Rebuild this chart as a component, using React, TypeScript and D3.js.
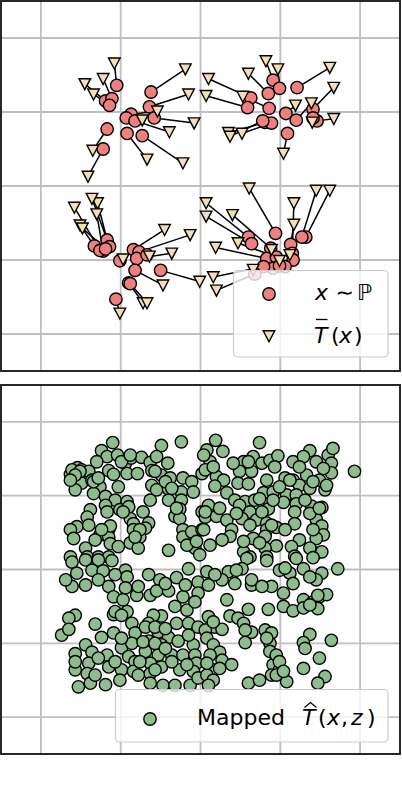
import React from 'react';
import * as d3 from 'd3';

const gridTicks = [-2, -1, 0, 1, 2];
const domain: [number, number] = [-2.5, 2.5];

// x ~ P (source samples)
const sourceX = [-1.05,-1.19,-1.11,-1.14,-0.62,-0.64,-0.58,-0.87,-0.93,-0.82,-1.17,-1.22,-0.92,-0.73,
  0.91,0.99,0.85,1.21,1.41,0.63,0.59,0.86,1.07,1.20,1.46,0.81,0.89,1.09,1.41,0.78,
  -1.17,-1.14,-1.22,-1.33,-1.26,-1.19,-0.84,-0.77,-0.80,-0.67,-1.01,-0.82,-0.50,-0.90,-0.88,-1.06,
  0.94,1.32,1.27,0.60,0.64,1.13,1.15,0.88,0.83,0.95,1.16,1.06,0.91,0.79,0.68,0.99];
const sourceY = [1.36,1.15,1.18,1.09,1.27,1.07,0.92,0.97,0.92,0.88,0.77,0.50,0.71,0.68,
  1.43,1.32,1.25,1.33,1.04,1.19,1.06,1.05,0.98,0.89,0.88,0.86,0.85,0.71,0.92,0.88,
  -0.73,-0.82,-0.88,-0.81,-0.87,-0.85,-0.86,-0.89,-0.98,-0.93,-1.01,-1.14,-1.14,-1.31,-1.32,-1.53,
  -0.64,-0.69,-0.69,-0.69,-0.78,-0.79,-0.91,-0.84,-0.98,-0.96,-1.00,-1.09,-1.11,-1.09,-1.19,-1.08];
// T-bar(x) (barycentric projections)
const targetX = [-1.08,-1.45,-1.22,-1.34,-0.19,-0.15,-0.08,-0.54,-0.73,-0.39,-1.35,-1.41,-0.67,-0.22,
  0.82,0.97,0.60,1.62,1.67,0.10,0.07,0.53,1.19,1.39,1.67,0.35,0.52,1.04,1.40,0.37,
  -1.29,-1.36,-1.30,-1.51,-1.58,-1.48,-0.45,-0.13,-0.36,-0.64,-0.97,-0.47,-0.01,-0.72,-0.67,-1.01,
  0.61,1.62,1.45,0.07,0.07,1.17,1.17,0.40,0.19,0.47,1.12,0.99,0.89,0.16,0.20,0.66];
const targetY = [1.66,1.38,1.45,1.24,1.58,1.24,0.85,1.01,0.89,0.73,0.48,0.13,0.36,0.31,
  1.69,1.58,1.52,1.60,1.33,1.45,1.22,1.21,1.09,1.12,0.91,0.72,0.71,0.44,0.86,0.67,
  -0.23,-0.17,-0.38,-0.53,-0.29,-0.57,-0.59,-0.66,-0.91,-0.95,-0.99,-1.34,-1.29,-1.58,-1.58,-1.72,
  -0.03,-0.06,-0.06,-0.23,-0.41,-0.52,-0.23,-0.39,-0.83,-0.77,-0.93,-1.01,-0.86,-1.23,-1.41,-1.13];

// Mapped T-hat(x, z)
const mappedPoints: [number, number][] = [
  [-1.10,1.72],[-1.24,1.61],[-1.17,1.53],[-1.04,1.55],[-1.30,1.46],[-0.94,1.44],[-0.87,1.51],[-0.74,1.52],
  [-0.63,1.45],[-0.49,1.68],[-0.55,1.53],[-0.41,1.44],[-0.24,1.73],[-1.54,1.38],[-1.63,1.29],[-1.49,1.35],
  [-1.40,1.33],[-1.15,1.34],[-1.09,1.29],[-0.92,1.30],[-0.79,1.30],[-0.61,1.34],[-0.49,1.28],[-0.38,1.24],
  [-0.22,1.24],[-0.11,1.19],[0.02,1.30],[-1.57,1.19],[-1.49,1.17],[-1.36,1.21],[-1.26,1.12],[-1.03,1.12],
  [-0.61,1.14],[-0.55,1.08],[-0.40,1.09],[-0.24,1.05],[-0.09,1.05],[-1.57,1.08],[-1.34,1.03],[-1.19,0.99],
  [-1.07,0.94],[-0.92,0.92],[-0.63,0.94],[-0.40,0.94],[-0.24,0.94],[-1.38,0.81],[-1.19,0.87],[-1.17,0.78],
  [-1.01,0.81],[-0.72,0.78],[-0.26,0.82],[0.02,0.78],[-1.42,0.71],[-0.88,0.69],[-0.32,0.72],[-0.26,0.69],
  [-0.84,0.62],[-0.65,0.63],[-0.69,0.56],[-1.55,0.58],[-1.63,0.54],[-1.59,0.42],[-1.15,0.54],[-1.26,0.47],
  [-1.15,0.44],[-1.32,0.40],[-0.84,0.54],[-0.76,0.44],[-0.88,0.36],[-0.22,0.54],[-0.22,0.44],[-0.11,0.51],
  [0.02,0.54],[-1.44,0.29],[-1.13,0.35],[-1.03,0.31],[-0.78,0.29],[-0.40,0.26],[-0.07,0.29],[-0.01,0.20],
  [-1.63,0.17],[-1.42,0.17],[-1.28,0.17],[-1.15,0.17],
  [-1.61,1.35],[-1.51,1.33],[-1.57,1.28],[-1.63,1.21],[-1.34,1.19],[-1.28,1.24],[-0.99,1.46],[-0.88,1.55],
  [-0.57,1.33],[-0.44,1.19],[-0.36,1.10],[-0.30,0.83],[-0.90,0.85],[-0.97,0.78],[-1.40,0.60],[-1.13,0.59],
  [-1.24,0.54],[-0.76,0.54],[-0.82,0.44],[-0.17,0.33],[-0.05,0.38],
  [0.19,1.75],[0.74,1.72],[0.08,1.62],[0.28,1.60],[0.12,1.46],[0.54,1.46],[0.66,1.53],[0.77,1.44],
  [0.87,1.48],[0.97,1.54],[1.16,1.46],[1.37,1.61],[1.29,1.53],[1.45,1.46],[1.60,1.55],[1.66,1.64],
  [1.64,1.44],[1.93,1.33],[0.06,1.35],[0.20,1.26],[0.29,1.21],[0.49,1.33],[0.64,1.33],[0.47,1.17],
  [0.60,1.16],[0.83,1.21],[1.06,1.24],[1.16,1.21],[1.33,1.28],[1.49,1.21],[1.64,1.31],[0.18,1.13],
  [0.33,1.04],[0.79,1.04],[0.91,1.05],[1.24,1.14],[1.37,1.10],[1.56,1.08],[1.08,1.01],[1.20,1.01],
  [0.10,0.87],[0.43,0.94],[0.56,0.92],[0.68,0.94],[1.04,0.91],[1.20,0.89],[1.39,0.86],[1.52,0.84],
  [0.62,0.78],[0.85,0.82],[1.18,0.78],[1.43,0.76],[0.06,0.71],[0.20,0.72],[0.33,0.67],[0.52,0.69],
  [0.70,0.67],[0.83,0.63],[1.18,0.62],[1.45,0.68],[0.39,0.54],[0.83,0.54],[0.95,0.57],[1.52,0.59],
  [0.04,0.54],[0.37,0.45],[0.66,0.42],[0.81,0.45],[1.54,0.47],[1.45,0.42],[1.24,0.40],[1.14,0.31],
  [0.95,0.32],[0.81,0.29],[0.54,0.24],[0.62,0.17],[0.83,0.17],[1.45,0.22],[1.18,0.18],[1.52,0.24],
  [0.04,1.55],[0.16,1.39],[0.41,1.44],[0.60,1.46],[0.93,1.39],[1.24,1.39],[1.54,1.37],[1.12,1.21],
  [1.41,1.19],[1.58,1.14],[0.99,1.12],[0.74,0.96],[0.91,0.94],[1.31,0.94],[0.49,0.87],[0.24,0.83],
  [0.06,0.78],[0.77,0.78],[1.37,0.76],[1.49,0.83],[0.45,0.76],[0.62,0.60],[0.89,0.60],[1.06,0.54],
  [1.41,0.54],[0.74,0.36],[0.54,0.38],[0.27,0.40],[0.12,0.33],[1.37,0.29],
  [-1.61,0.10],[-1.44,0.13],[-1.28,0.13],[-1.11,0.12],[-1.55,-0.05],[-1.36,-0.01],[-1.22,-0.02],[-0.94,-0.01],
  [-0.92,-0.10],[-0.65,-0.07],[-0.51,-0.14],[-0.30,-0.11],[-0.15,0.01],[-0.03,-0.17],[-1.61,-0.23],[-1.44,-0.21],
  [-1.15,-0.23],[-0.94,-0.25],[-0.80,-0.35],[-0.63,-0.35],[-0.55,-0.29],[-0.40,-0.29],[-0.22,-0.37],[-0.03,-0.32],
  [-1.09,-0.37],[-0.97,-0.41],[-0.32,-0.50],[-0.17,-0.55],[-1.57,-0.62],[-1.65,-0.66],[-1.09,-0.61],[-0.92,-0.57],
  [-0.49,-0.63],[-0.59,-0.62],[-1.32,-0.74],[-0.86,-0.73],[-0.65,-0.73],[-0.30,-0.73],[-0.15,-0.73],[-0.03,-0.78],
  [-1.74,-0.89],[-1.65,-0.81],[-1.24,-0.92],[-1.09,-0.86],[-0.82,-0.86],[-0.53,-0.85],[-0.40,-0.92],[-1.44,-1.02],
  [-0.99,-1.06],[-0.86,-1.00],[-0.65,-0.97],[-0.49,-1.02],[-0.28,-0.97],[-0.09,-1.02],[-1.57,-1.14],[-1.36,-1.12],
  [-1.17,-1.16],[-0.90,-1.18],[-0.69,-1.11],[-0.53,-1.16],[-0.36,-1.16],[-0.22,-1.16],[-0.07,-1.16],[-1.40,-1.27],
  [-1.15,-1.32],[-0.82,-1.25],[-0.63,-1.27],[-0.49,-1.32],[-0.05,-1.27],[-1.57,-1.36],[-1.42,-1.41],[-0.99,-1.36],
  [-0.84,-1.38],[-0.63,-1.41],[-0.26,-1.36],[-0.09,-1.38],[-1.53,-1.59],[-1.38,-1.54],[-1.19,-1.56],[-1.01,-1.50],
  [-0.63,-1.54],[-0.47,-1.57],[-0.32,-1.57],[-0.13,-1.57],[-0.03,-1.47],
  [-1.69,-0.14],[-1.28,-0.14],[-1.07,-0.07],[-0.78,-0.23],[-0.44,-0.19],[-0.19,-0.21],[-0.07,-0.44],[-1.07,-0.57],
  [-0.99,-0.62],[-0.69,-0.78],[-0.57,-0.78],[-0.44,-0.80],[-0.15,-0.89],[-0.99,-0.93],[-0.72,-0.98],[-0.57,-1.00],
  [-0.44,-1.07],[-1.57,-1.25],[-1.28,-1.20],[-1.07,-1.25],[-0.76,-1.25],[-0.36,-1.25],[-0.78,-1.43],[-0.57,-1.36],
  [-0.17,-1.29],[-1.32,-1.43],
  [0.58,0.15],[0.83,0.12],[1.20,0.15],[1.41,0.16],[0.08,-0.03],[0.35,-0.03],[0.52,0.01],[0.99,-0.01],
  [1.12,-0.05],[1.29,0.01],[1.52,-0.05],[1.72,0.01],[0.27,-0.14],[0.43,-0.19],[0.64,-0.21],[0.89,-0.23],
  [1.16,-0.19],[1.45,-0.14],[0.10,-0.21],[0.64,-0.14],[1.04,-0.32],[1.29,-0.41],[1.41,-0.44],[1.49,-0.37],
  [1.58,-0.34],[0.33,-0.41],[0.60,-0.54],[0.85,-0.54],[1.04,-0.50],[1.16,-0.56],[1.29,-0.52],[1.47,-0.53],
  [0.10,-0.64],[0.37,-0.63],[0.47,-0.66],[0.54,-0.73],[0.18,-0.78],[0.06,-0.82],[0.27,-0.81],[0.81,-0.82],
  [0.89,-0.86],[0.64,-0.85],[1.37,-0.88],[1.29,-0.99],[1.31,-1.07],[1.64,-0.96],[0.08,-0.93],[0.16,-1.02],
  [0.56,-0.99],[0.87,-1.00],[0.87,-1.11],[0.95,-1.18],[1.49,-1.20],[0.24,-1.12],[0.12,-1.16],[0.27,-1.23],
  [0.39,-1.29],[0.91,-1.29],[0.99,-1.36],[1.29,-1.34],[1.56,-1.45],[0.16,-1.36],[0.08,-1.43],[0.16,-1.50],
  [0.60,-1.54],[0.74,-1.50],[0.89,-1.43],[1.08,-1.52],[1.47,-1.54],
  [0.18,-0.07],[0.45,-0.01],[0.77,-0.23],[1.06,0.02],[1.37,-0.10],[1.47,-0.35],[1.37,-0.48],[0.16,-0.71],
  [0.56,-0.82],[0.83,-0.93],[0.95,-1.16],[0.99,-1.25],[0.08,-1.27],[0.24,-1.34],[0.10,-1.57],[0.95,-1.43],
  [1.04,-1.38],
];

const COLORS = {
  source: '#F08080',
  target: '#F5DEB3',
  mapped: '#8FBC8F',
  grid: '#bfbfbf',
  frame: '#111111',
  legendEdge: '#cccccc',
};

const FONT = '"DejaVu Sans", sans-serif';
const TRI = 'M-5.8,-5.2 L5.8,-5.2 L0,5.8 Z';

function Panel({ id, top, bottom, x }: { id: string; top: number; bottom: number; x: d3.ScaleLinear<number, number> }) {
  const y = d3.scaleLinear().domain(domain).range([bottom, top]);
  const [x0, x1] = x.range();
  return (
    <g>
      <defs>
        <clipPath id={id}>
          <rect x={x0} y={top} width={x1 - x0} height={bottom - top} />
        </clipPath>
      </defs>
      <g clipPath={`url(#${id})`}>
        {gridTicks.map((t) => (
          <line key={'vx' + t} x1={x(t)} x2={x(t)} y1={top} y2={bottom} stroke={COLORS.grid} strokeWidth={1.8} />
        ))}
        {gridTicks.map((t) => (
          <line key={'hy' + t} x1={x0} x2={x1} y1={y(t)} y2={y(t)} stroke={COLORS.grid} strokeWidth={1.8} />
        ))}
      </g>
    </g>
  );
}

export default function App() {
  const x = d3.scaleLinear().domain(domain).range([1, 400]);
  const yTop = d3.scaleLinear().domain(domain).range([371, 1]);
  const yBot = d3.scaleLinear().domain(domain).range([754, 385]);

  const pairs = sourceX.map((sx, i) => ({ sx, sy: sourceY[i], tx: targetX[i], ty: targetY[i] }));

  return (
    <div style={{ position: 'absolute', left: 0, top: 0 }}>
      <svg width={402} height={786} style={{ display: 'block', fontFamily: FONT }}>
        <rect x={0} y={0} width={402} height={786} fill="#ffffff" />

        {/* Top panel */}
        <Panel id="clipTop" top={1} bottom={371} x={x} />
        <g clipPath="url(#clipTop)">
          {pairs.map((p, i) => (
            <line key={'l' + i} x1={x(p.sx)} y1={yTop(p.sy)} x2={x(p.tx)} y2={yTop(p.ty)} stroke="#000" strokeWidth={1.5} />
          ))}
          {pairs.map((p, i) => (
            <circle key={'c' + i} cx={x(p.sx)} cy={yTop(p.sy)} r={6.2} fill={COLORS.source} stroke="#000" strokeWidth={1.4} />
          ))}
          {pairs.map((p, i) => (
            <path key={'t' + i} d={TRI} transform={`translate(${x(p.tx)},${yTop(p.ty)})`} fill={COLORS.target} stroke="#000" strokeWidth={1.4} strokeLinejoin="miter" />
          ))}
        </g>
        <rect x={1} y={1} width={399} height={370} fill="none" stroke={COLORS.frame} strokeWidth={1.8} />

        {/* Top legend */}
        <g>
          <rect x={233.5} y={270.5} width={154.5} height={86.5} rx={4} ry={4} fill="#ffffff" fillOpacity={0.8} stroke={COLORS.legendEdge} strokeWidth={1.2} />
          <circle cx={269} cy={294} r={6.2} fill={COLORS.source} stroke="#000" strokeWidth={1.4} />
          <path d={TRI} transform="translate(269,336)" fill={COLORS.target} stroke="#000" strokeWidth={1.4} />
          <text x={315} y={300} fontSize={22} fill="#000">
            <tspan fontStyle="italic">x</tspan>
          </text>
          <text x={335.5} y={300} fontSize={22} fill="#000">∼</text>
          <text x={357} y={300} fontSize={22} fill="#000">ℙ</text>
          <text y={343} fontSize={22} fill="#000">
            <tspan x={314} fontStyle="italic">T</tspan>
            <tspan x={331}>(</tspan>
            <tspan x={339} fontStyle="italic">x</tspan>
            <tspan x={354}>)</tspan>
          </text>
          <line x1={316} x2={327.5} y1={319.5} y2={319.5} stroke="#000" strokeWidth={1.3} />
        </g>

        {/* Bottom panel */}
        <Panel id="clipBot" top={385} bottom={754} x={x} />
        <g clipPath="url(#clipBot)">
          {mappedPoints.map(([mx, my], i) => (
            <circle key={'m' + i} cx={x(mx)} cy={yBot(my)} r={6.2} fill={COLORS.mapped} stroke="#000" strokeWidth={1.4} />
          ))}
        </g>
        <rect x={1} y={385} width={399} height={369} fill="none" stroke={COLORS.frame} strokeWidth={1.8} />

        {/* Bottom legend */}
        <g>
          <rect x={115.5} y={689.5} width={272.5} height={52.5} rx={4} ry={4} fill="#ffffff" fillOpacity={0.8} stroke={COLORS.legendEdge} strokeWidth={1.2} />
          <circle cx={150} cy={719} r={6.2} fill={COLORS.mapped} stroke="#000" strokeWidth={1.4} />
          <text y={725} fontSize={22} fill="#000">
            <tspan x={197}>Mapped</tspan>
            <tspan x={302} fontStyle="italic">T</tspan>
            <tspan x={318}>(</tspan>
            <tspan x={327} fontStyle="italic">x</tspan>
            <tspan x={341}>,</tspan>
            <tspan x={351} fontStyle="italic">z</tspan>
            <tspan x={367}>)</tspan>
          </text>
          <path d="M304.5,707.5 L310.5,702.5 L316.5,707.5" fill="none" stroke="#000" strokeWidth={1.2} />
        </g>
      </svg>
    </div>
  );
}
